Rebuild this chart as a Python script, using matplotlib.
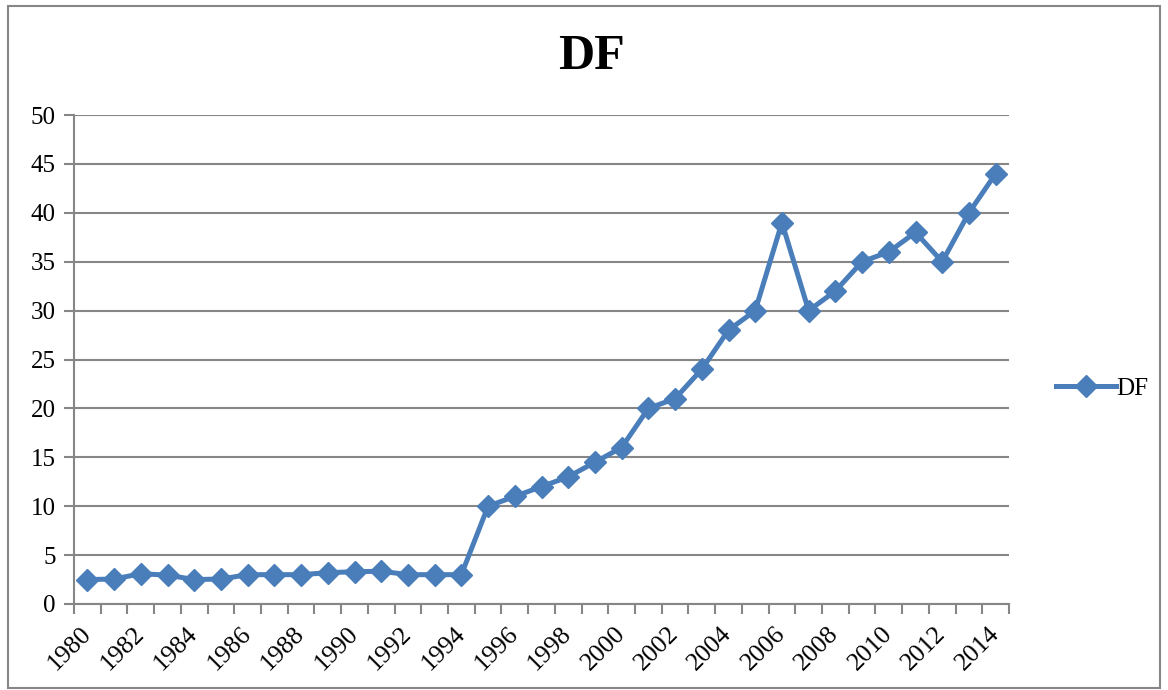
import numpy as np
import matplotlib
matplotlib.use('Agg')
import matplotlib.pyplot as plt

# values
years = list(range(1980, 2015))
df_values = [2.5, 2.55, 3.1, 2.95, 2.5, 2.55, 3.0, 3.0, 3.0, 3.2, 3.3, 3.35, 3.0, 3.0, 3.0,
             10, 11, 12, 13, 14.5, 16, 20, 21, 24, 28, 30, 39, 30, 32, 35, 36, 38, 35, 40, 44]
series_name = 'DF'
title = 'DF'
y_ticks = list(range(0, 55, 5))

plt.rcParams['font.family'] = ['Liberation Serif', 'DejaVu Serif']

line_color = '#4a7ebb'
grid_color = '#868686'

fig = plt.figure(figsize=(11.68, 6.9), dpi=100)
ax = fig.add_axes([74 / 1168, 1 - 604 / 690, (1009 - 74) / 1168, (604 - 115) / 690])

x = np.arange(len(years))
ax.plot(x, df_values, color=line_color, lw=3.6, marker='D', ms=11.5,
        markeredgecolor=line_color, label=series_name, solid_joinstyle='round', zorder=3)

ax.set_xlim(-0.5, len(years) - 0.5)
ax.set_ylim(0, 50)
ax.set_yticks(y_ticks)
ax.set_yticklabels([str(v) for v in y_ticks], fontsize=18)
ax.yaxis.grid(True, color=grid_color, lw=1.5)
ax.set_axisbelow(True)

# tick marks between categories, labels every other year at category centres
ax.set_xticks(np.arange(-0.5, len(years), 1.0))
ax.set_xticklabels([])
ax.set_xticks(x[::2], minor=True)
ax.set_xticklabels([str(y) for y in years[::2]], minor=True, fontsize=18.5,
                   rotation=45, ha='right', va='center', rotation_mode='anchor')
ax.tick_params(axis='x', which='minor', length=0, pad=19)
ax.tick_params(axis='x', which='major', length=7, width=1.5, color=grid_color)
ax.tick_params(axis='y', length=7, width=1.5, color=grid_color, pad=6)

for side in ['top', 'right']:
    ax.spines[side].set_visible(False)
for side in ['left', 'bottom']:
    ax.spines[side].set_color(grid_color)
    ax.spines[side].set_linewidth(1.5)

fig.text(591 / 1168, 1 - 57 / 690, title, fontsize=36, fontweight='bold',
         ha='center', va='center')

ax.legend(loc='center left', bbox_to_anchor=(1.04, 0.44), frameon=False,
          fontsize=18, handlelength=2.4, handletextpad=0.0, borderaxespad=0)

# outer chart border
border = plt.Rectangle((8 / 1168, 2 / 690), 1 - 16 / 1168, 1 - 8 / 690, transform=fig.transFigure,
                       fill=False, edgecolor=grid_color, lw=1.5)
fig.patches.append(border)

fig.savefig('out.png', dpi=100)
